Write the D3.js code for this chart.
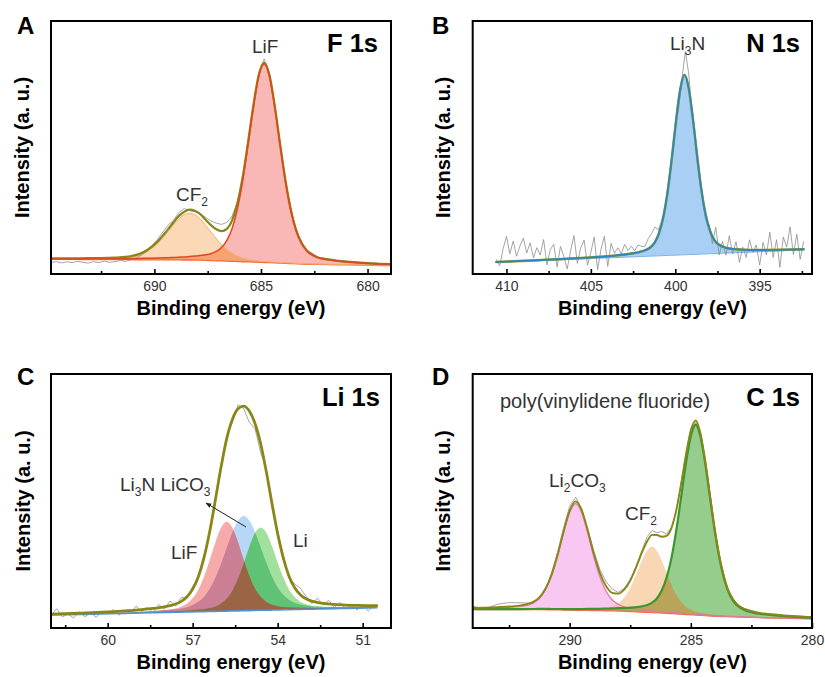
<!DOCTYPE html>
<html><head><meta charset="utf-8">
<script src="https://cdn.jsdelivr.net/npm/d3@7"></script>
<style>
body{margin:0;background:#fff;}
svg{display:block;font-family:"Liberation Sans",Arial,Helvetica,sans-serif;}
</style></head><body>
<svg id="chart" width="825" height="677"></svg>
<script>
// ---------- Panel A : F 1s ----------
const f1sEnergy = [694.85, 693.85, 692.85, 691.85, 691.35, 690.85, 690.35, 689.85, 689.6, 689.35, 689.1, 688.85, 688.6, 688.35, 688.1, 687.85, 687.6, 687.35, 687.1, 686.85, 686.6, 686.35, 686.1, 685.85, 685.6, 685.35, 685.1, 684.85, 684.6, 684.35, 684.1, 683.85, 683.6, 683.35, 683.1, 682.85, 682.35, 681.85, 680.85, 679.85, 678.85];
const f1sBackground = [5.8, 5.76, 5.72, 5.67, 5.65, 5.63, 5.61, 5.59, 5.58, 5.57, 5.56, 5.55, 5.54, 5.53, 5.5, 5.45, 5.37, 5.3, 5.22, 5.15, 5.07, 5.0, 4.9, 4.85, 4.78, 4.7, 4.63, 4.55, 4.46, 4.37, 4.28, 4.2, 4.11, 4.02, 3.94, 3.86, 3.79, 3.72, 3.57, 3.43, 3.3];
const f1sCF2 = [5.93, 5.93, 5.97, 6.07, 6.35, 7.03, 8.81, 12.09, 14.38, 16.87, 19.46, 21.85, 23.44, 24.03, 23.4, 21.75, 19.27, 16.6, 14.02, 11.65, 9.67, 8.2, 7.0, 6.25, 5.78, 5.4, 5.13, 4.95, 4.81, 4.67, 4.56, 4.45, 4.33, 4.22, 4.13, 4.03, 3.94, 3.85, 3.67, 3.53, 3.38];
const f1sLiF = [6.0, 5.96, 6.02, 6.07, 6.05, 6.13, 6.21, 6.29, 6.38, 6.47, 6.56, 6.65, 6.74, 6.93, 7.1, 7.35, 7.57, 8.0, 8.92, 10.45, 13.27, 18.1, 26.0, 37.25, 51.38, 66.2, 78.33, 83.05, 78.16, 65.87, 50.88, 36.6, 25.21, 17.12, 12.14, 9.16, 6.49, 5.62, 4.67, 4.13, 3.8];
const f1sEnvelope = [6.13, 6.13, 6.27, 6.47, 6.75, 7.53, 9.41, 12.79, 15.18, 17.77, 20.46, 22.95, 24.64, 25.43, 25.0, 23.65, 21.47, 19.3, 17.72, 16.95, 17.87, 21.3, 28.1, 38.65, 52.38, 66.9, 78.83, 83.45, 78.51, 66.17, 51.16, 36.85, 25.43, 17.32, 12.33, 9.33, 6.64, 5.75, 4.77, 4.23, 3.88];
const f1sRawEnergy = [694.85, 694.6, 694.35, 694.1, 693.85, 693.6, 693.35, 693.1, 692.85, 692.6, 692.35, 692.1, 691.85, 691.6, 691.35, 691.1, 690.85, 690.6, 690.35, 690.1, 689.85, 689.6, 689.35, 689.1, 688.85, 688.6, 688.35, 688.1, 687.85, 687.6, 687.35, 687.1, 686.85, 686.6, 686.35, 686.1, 685.85, 685.6, 685.35, 685.1, 684.85, 684.6, 684.35, 684.1, 683.85, 683.6, 683.35, 683.1, 682.85, 682.6, 682.35, 682.1, 681.85, 681.6, 681.35, 681.1, 680.85, 680.6, 680.35, 680.1, 679.85, 679.6, 679.35, 679.1, 678.85];
const f1sRaw = [4.6, 4.9, 4.4, 4.8, 4.5, 5.0, 4.6, 4.3, 4.9, 4.5, 5.1, 4.6, 4.9, 5.3, 5.0, 5.6, 6.4, 7.5, 9.0, 11.4, 13.8, 16.6, 19.4, 21.2, 24.3, 25.9, 25.0, 24.6, 23.9, 22.4, 21.0, 20.1, 19.6, 20.4, 23.0, 28.9, 38.2, 52.9, 66.4, 79.4, 85.0, 79.2, 65.7, 51.6, 36.4, 25.9, 17.0, 12.7, 9.1, 8.3, 6.5, 6.4, 5.6, 5.8, 5.1, 5.3, 4.6, 4.9, 4.3, 4.6, 4.1, 4.4, 3.9, 4.2, 3.8];
const f1sMajorTicks = [690, 685, 680];
const f1sMinorTicks = [692.5, 687.5, 682.5];

// ---------- Panel B : N 1s ----------
const n1sEnergy = [410.6, 410, 409, 408, 407, 406, 405, 404, 403, 402.5, 402, 401.7, 401.45, 401.2, 400.95, 400.7, 400.45, 400.2, 399.95, 399.7, 399.45, 399.2, 398.95, 398.7, 398.45, 398.2, 397.95, 397.7, 397.45, 397, 396.5, 396, 395, 394, 393, 392.4];
const n1sBackground = [4.6, 4.76, 5.03, 5.3, 5.57, 5.84, 6.11, 6.38, 6.65, 6.78, 6.92, 7.0, 7.07, 7.13, 7.2, 7.26, 7.33, 7.4, 7.46, 7.53, 7.6, 7.67, 7.73, 7.8, 7.87, 7.94, 8.0, 8.07, 8.14, 8.26, 8.39, 8.53, 8.8, 9.07, 9.34, 9.5];
const n1sLi3N = [4.72, 4.89, 5.19, 5.5, 5.82, 6.16, 6.55, 7.03, 7.7, 8.18, 8.92, 9.6, 10.67, 12.63, 16.4, 22.76, 32.63, 45.9, 60.76, 73.13, 78.7, 73.27, 61.03, 46.3, 33.17, 23.44, 17.2, 13.57, 11.74, 10.36, 9.84, 9.61, 9.47, 9.52, 9.67, 9.78];
const n1sRawEnergy = [410.6, 410.4, 410.2, 410.0, 409.8, 409.6, 409.4, 409.2, 409.0, 408.8, 408.6, 408.4, 408.2, 408.0, 407.8, 407.6, 407.4, 407.2, 407.0, 406.8, 406.6, 406.4, 406.2, 406.0, 405.8, 405.6, 405.4, 405.2, 405.0, 404.8, 404.6, 404.4, 404.2, 404.0, 403.8, 403.6, 403.4, 403.2, 403.0, 402.8, 402.6, 402.4, 402.2, 402.0, 401.8, 401.6, 401.4, 401.2, 401.0, 400.8, 400.6, 400.4, 400.2, 400.0, 399.8, 399.6, 399.4, 399.2, 399.0, 398.8, 398.6, 398.4, 398.2, 398.0, 397.8, 397.6, 397.4, 397.2, 397.0, 396.8, 396.6, 396.4, 396.2, 396.0, 395.8, 395.6, 395.4, 395.2, 395.0, 394.8, 394.6, 394.4, 394.2, 394.0, 393.8, 393.6, 393.4, 393.2, 393.0, 392.8, 392.6, 392.4];
const n1sRaw = [5.7, 3.3, 9.9, 14.9, 8.0, 13.0, 7.0, 11.1, 14.2, 8.3,
  12.3, 6.4, 10.4, 7.5, 13.6, 3.6, 9.7, 11.7, 2.8, 10.9,
  6.9, 2.0, 9.1, 15.2, 4.2, 10.3, 13.4, 3.5, 8.6, 14.6,
  1.7, 9.8, 14.9, 3.0, 12.1, 8.2, 10.4, 8.0, 11.7, 9.3,
  11.0, 9.2, 11.5, 10.9, 10.9, 14.0, 16.0, 18.6, 17.5, 21.0,
  25.5, 36.0, 44.4, 58.0, 65.5, 77.5, 88.0, 79.0, 63.0, 53.5,
  39.5, 31.0, 21.4, 19.5, 12.0, 18.5, 7.5, 12.9, 7.4, 15.1,
  7.9, 12.75, 4.6, 10.6, 6.55, 13.5, 8.5, 11.5, 3.5, 12.5,
  7.5, 16.55, 6.55, 13.55, 2.6, 14.6, 10.65, 18.65, 7.7, 15.75,
  5.75, 12.8];
const n1sMajorTicks = [410, 405, 400, 395];
const n1sMinorTicks = [407.5, 402.5, 397.5, 392.5];

// ---------- Panel C : Li 1s ----------
const li1sEnergy = [62, 61, 60, 59.4, 58.8, 58.4, 58.0, 57.8, 57.6, 57.4, 57.2, 57.0, 56.8, 56.6, 56.4, 56.2, 56.0, 55.8, 55.6, 55.4, 55.2, 55.0, 54.8, 54.6, 54.4, 54.2, 54.0, 53.8, 53.6, 53.4, 53.2, 53.0, 52.8, 52.6, 52.4, 52.0, 51.6, 51.2, 50.5];
const li1sBackground = [5.1, 5.35, 5.6, 5.75, 5.9, 6.0, 6.11, 6.16, 6.21, 6.26, 6.31, 6.36, 6.41, 6.46, 6.51, 6.56, 6.61, 6.66, 6.71, 6.76, 6.81, 6.86, 6.91, 6.96, 7.01, 7.06, 7.11, 7.16, 7.21, 7.26, 7.31, 7.36, 7.41, 7.46, 7.51, 7.61, 7.72, 7.82, 8.0];
const li1sLiF = [5.23, 5.53, 5.87, 6.11, 6.41, 6.67, 7.05, 7.3, 7.7, 8.36, 9.62, 11.68, 15.02, 20.15, 26.64, 33.7, 39.49, 41.86, 39.59, 33.9, 26.94, 20.55, 15.52, 12.28, 10.32, 9.16, 8.6, 8.3, 8.15, 8.03, 7.98, 7.95, 7.92, 7.91, 7.91, 7.94, 7.99, 8.04, 8.17];
const li1sLi3N = [5.26, 5.56, 5.9, 6.14, 6.43, 6.66, 6.96, 7.16, 7.38, 7.71, 8.21, 9.01, 10.29, 12.35, 15.44, 19.8, 25.26, 31.5, 37.62, 42.23, 44.11, 42.33, 37.82, 31.8, 25.66, 20.3, 16.04, 13.05, 11.09, 9.91, 9.21, 8.81, 8.58, 8.46, 8.36, 8.27, 8.25, 8.25, 8.32];
const li1sLi = [5.18, 5.46, 5.75, 5.94, 6.15, 6.3, 6.48, 6.58, 6.68, 6.8, 6.93, 7.08, 7.28, 7.52, 7.89, 8.51, 9.67, 11.58, 14.68, 19.44, 25.46, 31.99, 37.36, 39.56, 37.46, 32.19, 25.76, 19.84, 15.18, 12.18, 10.37, 9.31, 8.79, 8.52, 8.38, 8.23, 8.19, 8.19, 8.26];
const li1sEnvelope = [5.49, 5.87, 6.36, 6.74, 7.26, 7.72, 8.36, 8.82, 9.46, 10.5, 12.33, 15.31, 20.15, 27.69, 37.86, 50.3, 63.26, 74.46, 82.11, 86.31, 87.39, 85.41, 80.52, 72.56, 61.48, 48.94, 37.09, 27.46, 20.38, 15.86, 13.13, 11.5, 10.59, 10.07, 9.72, 9.29, 9.04, 8.88, 8.78];
const li1sRawEnergy = [62.0, 61.8, 61.6, 61.4, 61.2, 61.0, 60.8, 60.6, 60.4, 60.2, 60.0, 59.8, 59.6, 59.4, 59.2, 59.0, 58.8, 58.6, 58.4, 58.2, 58.0, 57.8, 57.6, 57.4, 57.2, 57.0, 56.8, 56.6, 56.4, 56.2, 56.0, 55.8, 55.6, 55.4, 55.2, 55.0, 54.8, 54.6, 54.4, 54.2, 54.0, 53.8, 53.6, 53.4, 53.2, 53.0, 52.8, 52.6, 52.4, 52.2, 52.0, 51.8, 51.6, 51.4, 51.2, 51.0, 50.8, 50.6];
const li1sRaw = [4.99, 7.57, 4.44, 5.42, 4.0, 6.37, 4.47, 5.86, 4.26, 6.66, 5.36, 7.29, 5.01, 6.94, 5.71, 8.59, 6.46, 8.09, 6.02, 9.24, 7.36, 10.62, 8.66, 12.0, 11.83, 16.31, 19.65, 28.49, 37.26, 50.8, 62.46, 75.46, 80.91, 87.81, 86.39, 80.91, 78.52, 69.06, 62.48, 47.44, 38.09, 28.96, 19.88, 17.36, 15.63, 12.5, 9.59, 11.67, 9.12, 10.9, 8.09, 10.07, 7.54, 9.26, 7.08, 9.45, 6.61, 9.18];
const li1sMajorTicks = [60, 57, 54, 51];
const li1sMinorTicks = [61.5, 58.5, 55.5, 52.5];

// ---------- Panel D : C 1s ----------
const c1sEnergy = [294, 293.5, 293, 292.5, 292, 291.5, 291.25, 291, 290.75, 290.5, 290.25, 290, 289.75, 289.5, 289.25, 289, 288.75, 288.5, 288.25, 288, 287.75, 287.5, 287.25, 287, 286.8, 286.6, 286.4, 286.2, 286, 285.8, 285.6, 285.4, 285.2, 285, 284.8, 284.6, 284.4, 284.2, 284, 283.75, 283.5, 283.25, 283, 282.5, 282, 281.5, 281, 280.5, 280];
const c1sBackground = [7.3, 7.28, 7.27, 7.25, 7.23, 7.22, 7.21, 7.2, 7.16, 7.12, 7.08, 7.03, 6.99, 6.95, 6.91, 6.87, 6.83, 6.78, 6.74, 6.7, 6.59, 6.48, 6.36, 6.25, 6.16, 6.07, 5.98, 5.89, 5.8, 5.68, 5.56, 5.44, 5.32, 5.2, 5.08, 4.96, 4.84, 4.72, 4.6, 4.53, 4.45, 4.38, 4.3, 4.15, 4.0, 3.9, 3.8, 3.7, 3.6];
const c1sLi2CO3 = [7.69, 7.76, 7.9, 8.13, 8.55, 9.87, 11.58, 14.93, 20.35, 28.12, 37.36, 45.38, 48.99, 45.3, 37.19, 27.87, 20.02, 14.51, 11.11, 9.35, 8.37, 7.8, 7.41, 7.13, 6.93, 6.76, 6.58, 6.43, 6.28, 6.12, 5.96, 5.8, 5.66, 5.51, 5.37, 5.22, 5.08, 4.95, 4.81, 4.72, 4.63, 4.55, 4.46, 4.29, 4.12, 4.01, 3.89, 3.78, 3.68];
const c1sCF2 = [7.38, 7.37, 7.37, 7.37, 7.37, 7.39, 7.4, 7.41, 7.39, 7.38, 7.37, 7.38, 7.38, 7.41, 7.45, 7.54, 7.67, 7.93, 8.53, 9.77, 12.0, 15.84, 21.15, 26.92, 30.52, 32.07, 30.34, 26.56, 21.76, 17.07, 13.13, 10.3, 8.39, 7.16, 6.43, 5.96, 5.65, 5.39, 5.16, 5.01, 4.85, 4.73, 4.6, 4.39, 4.19, 4.05, 3.93, 3.81, 3.7];
const c1sPVDF = [7.44, 7.44, 7.45, 7.45, 7.46, 7.49, 7.5, 7.52, 7.49, 7.48, 7.47, 7.47, 7.46, 7.48, 7.5, 7.52, 7.57, 7.61, 7.69, 7.8, 7.89, 8.02, 8.2, 8.58, 9.05, 9.97, 11.63, 14.74, 19.83, 27.51, 38.41, 51.49, 64.95, 75.48, 80.08, 75.24, 64.47, 50.77, 37.45, 24.18, 15.48, 10.61, 8.2, 6.23, 5.43, 4.94, 4.59, 4.32, 4.11];
const c1sEnvelope = [7.91, 8.01, 8.18, 8.45, 8.92, 10.31, 12.06, 15.46, 20.91, 28.74, 38.04, 46.17, 49.85, 46.29, 38.32, 29.19, 21.6, 16.49, 13.85, 13.52, 15.08, 18.7, 24.04, 30.13, 34.18, 36.66, 36.59, 35.95, 36.27, 39.34, 46.38, 56.71, 68.36, 77.75, 81.72, 76.5, 65.52, 51.67, 38.22, 24.85, 16.06, 11.13, 8.66, 6.61, 5.74, 5.2, 4.81, 4.51, 4.29];
const c1sRaw = [8.6, 7.4, 9.3, 10.0, 9.9, 9.8, 11.6, 15.0, 21.6, 29.8, 39.5, 47.9, 51.5, 47.0, 38.9, 30.2, 23.0, 18.3, 15.4, 14.0, 15.6, 19.0, 24.6, 31.0, 36.0, 38.4, 37.5, 38.0, 37.0, 39.6, 46.0, 57.3, 67.6, 78.6, 80.9, 77.4, 64.9, 52.3, 37.7, 25.3, 15.7, 11.5, 8.3, 6.9, 5.4, 5.5, 4.5, 4.7, 4.1];
const c1sMajorTicks = [290, 285, 280];
const c1sMinorTicks = [292.5, 287.5, 282.5];

// ---------- drawing ----------
const FONT = '"Liberation Sans", Arial, Helvetica, sans-serif';
const ENV = '#8b8617';
const RAW = '#8e8e8e';
const svg = d3.select('#chart');
const defs = svg.append('defs');
let uid = 0;

function makePanel(x0, x1, yTop, yBot, domain) {
  const x = d3.scaleLinear().domain(domain).range([x0, x1]);
  const y = d3.scaleLinear().domain([0, 100]).range([yBot, yTop]);
  const cid = 'pc' + (uid++);
  defs.append('clipPath').attr('id', cid).append('rect')
    .attr('x', x0).attr('y', yTop).attr('width', x1 - x0).attr('height', yBot - yTop);
  const g = svg.append('g').attr('clip-path', `url(#${cid})`);
  return {x, y, g, x0, x1, yTop, yBot};
}
function areaD(p, E, lo, hi) {
  return d3.area().x((d, i) => p.x(E[i])).y0((d, i) => p.y(lo[i])).y1((d, i) => p.y(hi[i]))
    .curve(d3.curveMonotoneX)(hi);
}
function lineD(p, E, V, curve) {
  return d3.line().x((d, i) => p.x(E[i])).y((d, i) => p.y(V[i])).curve(curve || d3.curveMonotoneX)(V);
}
function fillArea(p, d, color) { p.g.append('path').attr('d', d).attr('fill', color); }
function overlap(p, dA, dB, color) {
  const id = 'ov' + (uid++);
  defs.append('clipPath').attr('id', id).append('path').attr('d', dB);
  p.g.append('g').attr('clip-path', `url(#${id})`).append('path').attr('d', dA).attr('fill', color);
}
function stroke(p, d, color, w) {
  p.g.append('path').attr('d', d).attr('fill', 'none').attr('stroke', color)
    .attr('stroke-width', w).attr('stroke-linejoin', 'round').attr('stroke-linecap', 'round');
}
function axes(p, major, minor, ylab) {
  const ax = svg.append('g').attr('transform', `translate(0,${p.yBot})`)
    .call(d3.axisBottom(p.x).tickValues(major).tickSizeInner(-5).tickSizeOuter(0).tickPadding(7).tickFormat(d3.format('d')));
  ax.attr('font-family', FONT).attr('font-size', 14);
  ax.select('.domain').remove();
  ax.selectAll('.tick line').attr('stroke', '#000').attr('stroke-width', 1.6);
  ax.selectAll('.tick text').attr('fill', '#333');
  const mn = svg.append('g').attr('transform', `translate(0,${p.yBot})`)
    .call(d3.axisBottom(p.x).tickValues(minor).tickSizeInner(-3).tickSizeOuter(0).tickFormat(''));
  mn.select('.domain').remove();
  mn.selectAll('.tick line').attr('stroke', '#000').attr('stroke-width', 1.6);
  svg.append('rect').attr('x', p.x0).attr('y', p.yTop).attr('width', p.x1 - p.x0).attr('height', p.yBot - p.yTop)
    .attr('fill', 'none').attr('stroke', '#000').attr('stroke-width', 2);
  svg.append('text').attr('x', (p.x0 + p.x1) / 2 + 10).attr('y', p.yBot + 41)
    .attr('text-anchor', 'middle').attr('font-family', FONT).attr('font-weight', 'bold').attr('font-size', 20)
    .text('Binding energy (eV)');
  svg.append('text').attr('transform', `translate(${ylab},${(p.yTop + p.yBot) / 2}) rotate(-90)`)
    .attr('text-anchor', 'middle').attr('font-family', FONT).attr('font-weight', 'bold').attr('font-size', 20)
    .text('Intensity (a. u.)');
}
function label(x, y, parts, opts) {
  opts = opts || {};
  const t = svg.append('text').attr('x', x).attr('y', y).attr('font-family', FONT)
    .attr('font-size', opts.size || 19).attr('fill', opts.fill || '#333')
    .attr('font-weight', opts.bold ? 'bold' : 'normal').attr('text-anchor', opts.anchor || 'start');
  let sub = false;
  parts.forEach(pt => {
    const isSub = Array.isArray(pt);
    const txt = isSub ? pt[0] : pt;
    const ts = t.append('tspan').text(txt);
    if (isSub) { ts.attr('font-size', 12).attr('dy', sub ? 0 : 5); sub = true; }
    else { if (sub) ts.attr('dy', -5); sub = false; }
  });
  return t;
}

// ---- Panel A ----
{
  const p = makePanel(51, 391, 21, 274, [694.85, 678.9]);
  const dCF2 = areaD(p, f1sEnergy, f1sBackground, f1sCF2);
  const dLiF = areaD(p, f1sEnergy, f1sBackground, f1sLiF);
  fillArea(p, dCF2, '#fbd8b6');
  fillArea(p, dLiF, '#f9b7b5');
  overlap(p, dCF2, dLiF, '#f7a36f');
  stroke(p, lineD(p, f1sEnergy, f1sBackground), '#ef6f3d', 1.3);
  stroke(p, lineD(p, f1sEnergy, f1sCF2), '#f2ae7a', 1);
  stroke(p, lineD(p, f1sRawEnergy, f1sRaw, d3.curveLinear), RAW, 0.8);
  stroke(p, lineD(p, f1sEnergy, f1sEnvelope), ENV, 2.3);
  stroke(p, lineD(p, f1sEnergy, f1sLiF), '#e0481c', 1.5);
  axes(p, f1sMajorTicks, f1sMinorTicks, 29);
  label(17, 34, ['A'], {size: 24, bold: true, fill: '#000'});
  label(378, 52, ['F 1s'], {size: 25.5, bold: true, fill: '#000', anchor: 'end'});
  label(252, 53, ['LiF']);
  label(176, 201, ['CF', ['2']]);
}

// ---- Panel B ----
{
  const p = makePanel(472.7, 812, 21, 274, [412, 391.9]);
  const dN = areaD(p, n1sEnergy, n1sBackground, n1sLi3N);
  fillArea(p, dN, '#a9cff5');
  stroke(p, lineD(p, n1sEnergy, n1sBackground), '#7ab4ec', 1);
  stroke(p, lineD(p, n1sRawEnergy, n1sRaw, d3.curveLinear), RAW, 0.8);
  stroke(p, lineD(p, n1sEnergy, n1sLi3N), '#a4a21c', 2.6);
  stroke(p, lineD(p, n1sEnergy, n1sLi3N), '#2c87c0', 1.9);
  axes(p, n1sMajorTicks, n1sMinorTicks, 450);
  label(432, 34, ['B'], {size: 24, bold: true, fill: '#000'});
  label(800, 52, ['N 1s'], {size: 25.5, bold: true, fill: '#000', anchor: 'end'});
  label(670, 50, ['Li', ['3'], 'N']);
}

// ---- Panel C ----
{
  const p = makePanel(51, 391, 374, 628, [62, 50]);
  const dB = areaD(p, li1sEnergy, li1sBackground, li1sLi3N);
  const dP = areaD(p, li1sEnergy, li1sBackground, li1sLiF);
  const dG = areaD(p, li1sEnergy, li1sBackground, li1sLi);
  fillArea(p, dB, '#b6d8f6');
  fillArea(p, dP, '#f6aaaa');
  fillArea(p, dG, '#a2e09e');
  overlap(p, dP, dB, '#cb7f95');
  overlap(p, dG, dB, '#5fc274');
  overlap(p, dP, dG, '#9b6444');
  stroke(p, lineD(p, li1sEnergy, li1sBackground), '#4a96d8', 1.6);
  stroke(p, lineD(p, li1sRawEnergy, li1sRaw, d3.curveLinear), RAW, 0.8);
  stroke(p, lineD(p, li1sEnergy, li1sEnvelope), ENV, 2.8);
  axes(p, li1sMajorTicks, li1sMinorTicks, 30);
  label(17, 385, ['C'], {size: 24, bold: true, fill: '#000'});
  label(380, 406, ['Li 1s'], {size: 25.5, bold: true, fill: '#000', anchor: 'end'});
  label(120, 491, ['Li', ['3'], 'N LiCO', ['3']]);
  label(171, 559, ['LiF']);
  label(293, 547, ['Li']);
  defs.append('marker').attr('id', 'arrowhead').attr('viewBox', '0 0 10 10').attr('refX', 9).attr('refY', 5)
    .attr('markerWidth', 6).attr('markerHeight', 6).attr('orient', 'auto')
    .append('path').attr('d', 'M0,1 L10,5 L0,9 Z').attr('fill', '#222');
  svg.append('line').attr('x1', 246).attr('y1', 527).attr('x2', 206).attr('y2', 503)
    .attr('stroke', '#222').attr('stroke-width', 1).attr('marker-end', 'url(#arrowhead)');
}

// ---- Panel D ----
{
  const p = makePanel(472.7, 812, 374, 628, [294, 280]);
  const dL = areaD(p, c1sEnergy, c1sBackground, c1sLi2CO3);
  const dC = areaD(p, c1sEnergy, c1sBackground, c1sCF2);
  const dG = areaD(p, c1sEnergy, c1sBackground, c1sPVDF);
  fillArea(p, dL, '#f8c8f2');
  fillArea(p, dC, '#fad7b4');
  fillArea(p, dG, '#96cd8c');
  overlap(p, dL, dC, '#f3bcc4');
  overlap(p, dC, dG, '#b9a45a');
  stroke(p, lineD(p, c1sEnergy, c1sBackground), '#f07150', 1.3);
  stroke(p, lineD(p, c1sEnergy, c1sLi2CO3), '#e07a9c', 1.2);
  stroke(p, lineD(p, c1sEnergy, c1sRaw, d3.curveLinear), RAW, 0.8);
  stroke(p, lineD(p, c1sEnergy, c1sPVDF), '#3a962e', 2.2);
  stroke(p, lineD(p, c1sEnergy, c1sEnvelope), ENV, 1.9);
  axes(p, c1sMajorTicks, c1sMinorTicks, 450);
  label(432, 385, ['D'], {size: 24, bold: true, fill: '#000'});
  label(800, 406, ['C 1s'], {size: 25.5, bold: true, fill: '#000', anchor: 'end'});
  label(500, 408, ['poly(vinylidene fluoride)'], {size: 20});
  label(549, 487, ['Li', ['2'], 'CO', ['3']]);
  label(625, 520, ['CF', ['2']]);
}
</script>
</body></html>
